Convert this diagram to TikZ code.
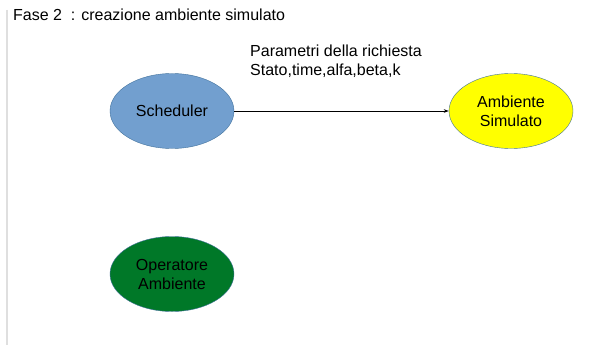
\documentclass[tikz,border=0pt]{standalone}
\usepackage{fontspec}
\setmainfont{Liberation Sans}
\usepackage{xcolor}
\usetikzlibrary{arrows.meta, shapes.geometric}

\definecolor{schedblue}{RGB}{114,159,207}
\definecolor{rimblue}{RGB}{65,113,156}
\definecolor{simyellow}{RGB}{255,255,0}
\definecolor{opgreen}{RGB}{0,120,40}

\begin{document}
\begin{tikzpicture}[x=1pt, y=-1pt, font=\fontsize{16}{19}\selectfont]
            \useasboundingbox (0,0) rectangle (593,350);
            % bordo sinistro della pagina
            \draw[gray!25, line width=2pt] (7,10) -- (7,345);

            \node[anchor=base west, inner sep=0] (title) at (13,21) {Fase 2\ \ : creazione ambiente simulato};

            \begin{scope}[every node/.style={ellipse, draw=rimblue, thin,
                          minimum width=124pt, minimum height=75pt,
                          inner sep=0, align=center}]
                \node[fill=schedblue] (sched) at (172,111) {Scheduler};
                \node[fill=simyellow] (amb) at (511,111) {Ambiente\\Simulato};
                \node[fill=opgreen] (oper) at (172,274) {Operatore\\Ambiente};
            \end{scope}

            \node[anchor=north west, inner sep=0, align=left] (params) at (250,44.5)
                {Parametri della richiesta\\Stato,time,alfa,beta,k};

            \begin{scope}[>={Stealth[black, length=5pt, width=3.5pt]},
                          every edge/.style={draw=black, line width=0.8pt}]
                \path [->] (sched) edge (amb);
            \end{scope}

            \end{tikzpicture}
\end{document}
